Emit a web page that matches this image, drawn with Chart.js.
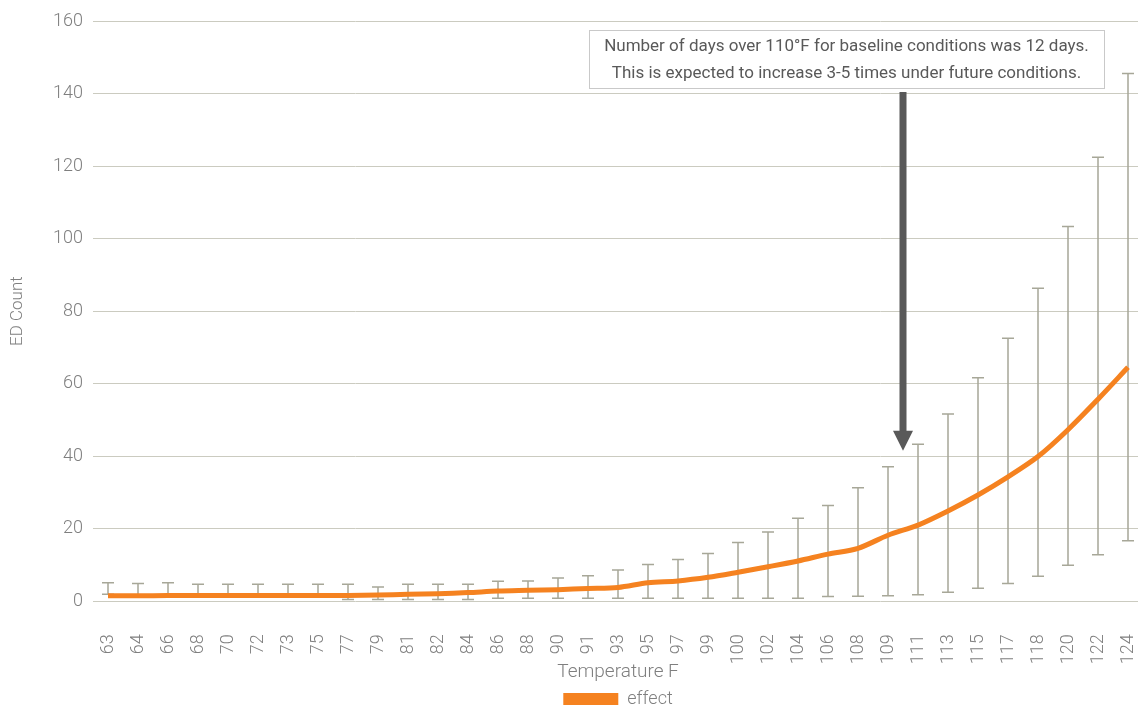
<!DOCTYPE html>
<html>
<head>
<meta charset="utf-8">
<script src="https://cdn.jsdelivr.net/npm/chart.js@4.4.1/dist/chart.umd.min.js"></script>
<style>
    html, body { margin: 0; padding: 0; background: #fff; overflow: hidden; }
    #wrap { width: 1143px; height: 710px; position: relative; }
</style>
</head>
<body>
<div id="wrap"><canvas id="grafico"></canvas></div>
<script>
// --- DADOS ---
const temperaturas = [63, 64, 66, 68, 70, 72, 73, 75, 77, 79, 81, 82, 84, 86, 88, 90, 91, 93, 95, 97,
    99, 100, 102, 104, 106, 108, 109, 111, 113, 115, 117, 118, 120, 122, 124];

const efeito = [1.5, 1.5, 1.6, 1.6, 1.6, 1.6, 1.6, 1.6, 1.6, 1.7, 1.9, 2.1, 2.4, 2.8, 3.0, 3.2, 3.5, 3.8, 5.1, 5.6,
    6.6, 8.0, 9.5, 11.1, 13.0, 14.6, 18.2, 21.0, 24.9, 29.3, 34.3, 39.9, 47.3, 55.7, 64.5];

const limiteSuperior = [5.1, 4.9, 5.1, 4.7, 4.7, 4.7, 4.7, 4.7, 4.7, 3.9, 4.7, 4.7, 4.7, 5.5, 5.6, 6.4, 7.0, 8.6, 10.1, 11.5,
    13.2, 16.2, 19.1, 22.9, 26.4, 31.3, 37.1, 43.3, 51.6, 61.6, 72.5, 86.3, 103.3, 122.4, 145.5];

const limiteInferior = [1.9, 1.2, 1.2, 1.2, 1.2, 1.2, 1.2, 1.2, 0.5, 0.5, 0.5, 0.5, 0.5, 0.8, 0.8, 0.8, 0.8, 0.8, 0.8, 0.8,
    0.8, 0.8, 0.8, 0.8, 1.3, 1.4, 1.5, 1.8, 2.5, 3.6, 4.9, 6.9, 9.9, 12.8, 16.7];

const ticksY = [0, 20, 40, 60, 80, 100, 120, 140, 160];

const textoNota = [
    'Number of days over 110°F for baseline conditions was 12 days.',
    'This is expected to increase 3-5 times under future conditions.'
];
const pontaSeta = 41.5; // valor no eixo Y onde a seta termina

// --- ESTILO ---
const fonte = "Roboto, 'Liberation Sans', sans-serif";
const corTexto = '#7f7f7f';
const corGrade = '#cbcbc0';
const corErro = '#a7a798';
const corLinha = '#f58220';
const corSeta = '#595959';

// Barras de erro desenhadas antes da linha (ficam por baixo)
const barrasErro = {
    id: 'barrasErro',
    beforeDatasetsDraw(chart) {
        const { ctx, scales: { x, y } } = chart;
        ctx.save();
        ctx.strokeStyle = corErro;
        ctx.lineWidth = 1.5;
        limiteSuperior.forEach((sup, i) => {
            const px = x.getPixelForValue(i);
            const yTop = y.getPixelForValue(sup);
            const yBot = y.getPixelForValue(limiteInferior[i]);
            ctx.beginPath();
            ctx.moveTo(px, yTop); ctx.lineTo(px, yBot);
            ctx.moveTo(px - 6, yTop); ctx.lineTo(px + 6, yTop);
            ctx.moveTo(px - 6, yBot); ctx.lineTo(px + 6, yBot);
            ctx.stroke();
        });
        ctx.restore();
    }
};

// Caixa de texto + seta apontando para 110°F
const notaSeta = {
    id: 'notaSeta',
    afterDatasetsDraw(chart) {
        const { ctx, scales: { x, y } } = chart;
        const caixa = { x: 589, y: 30, w: 515, h: 58 };
        ctx.save();
        ctx.fillStyle = '#fff';
        ctx.fillRect(caixa.x, caixa.y, caixa.w, caixa.h);
        ctx.strokeStyle = '#c9c9c9';
        ctx.lineWidth = 1;
        ctx.strokeRect(caixa.x + 0.5, caixa.y + 0.5, caixa.w, caixa.h);
        ctx.fillStyle = corSeta;
        ctx.font = '17px ' + fonte;
        ctx.textAlign = 'center';
        ctx.textBaseline = 'middle';
        ctx.fillText(textoNota[0], caixa.x + caixa.w / 2, caixa.y + 17);
        ctx.fillText(textoNota[1], caixa.x + caixa.w / 2, caixa.y + 44);

        // seta entre 109 e 111
        const ax = (x.getPixelForValue(26) + x.getPixelForValue(27)) / 2;
        const topo = caixa.y + caixa.h + 4;
        const ponta = y.getPixelForValue(pontaSeta);
        ctx.fillRect(ax - 3.5, topo, 7, ponta - topo - 18);
        ctx.beginPath();
        ctx.moveTo(ax - 10, ponta - 20);
        ctx.lineTo(ax + 10, ponta - 20);
        ctx.lineTo(ax, ponta);
        ctx.closePath();
        ctx.fill();
        ctx.restore();
    }
};

const ctx = document.getElementById('grafico').getContext('2d');
new Chart(ctx, {
    type: 'line',
    data: {
        labels: temperaturas.map(String),
        datasets: [{
            label: 'effect',
            data: efeito,
            borderColor: corLinha,
            backgroundColor: corLinha,
            borderWidth: 5,
            pointRadius: 0,
            tension: 0.3,
            fill: false
        }]
    },
    options: {
        responsive: true,
        maintainAspectRatio: false,
        animation: false,
        layout: { padding: { top: 21, left: 0, right: 0, bottom: -8 } },
        plugins: {
            tooltip: { enabled: false },
            legend: {
                position: 'bottom',
                fullSize: false,
                labels: {
                    boxWidth: 55,
                    boxHeight: 12,
                    padding: 4,
                    color: corTexto,
                    font: { family: fonte, size: 18, weight: 300 },
                    generateLabels: (chart) => chart.data.datasets.map((ds, i) => ({
                        text: ds.label,
                        fillStyle: ds.borderColor,
                        strokeStyle: ds.borderColor,
                        lineWidth: 0,
                        fontColor: corTexto,
                        datasetIndex: i
                    }))
                }
            }
        },
        scales: {
            x: {
                offset: true,
                grid: { display: false, drawTicks: false },
                border: { display: false },
                afterFit: (scale) => {
                    scale.paddingLeft = 0;
                    scale.paddingRight = 0;
                    scale.height -= 48;
                },
                ticks: {
                    minRotation: 90,
                    maxRotation: 90,
                    padding: 33,
                    color: corTexto,
                    font: { family: fonte, size: 18, weight: 300 }
                },
                title: {
                    display: true,
                    text: 'Temperature F',
                    color: corTexto,
                    font: { family: fonte, size: 19, weight: 300 },
                    padding: { top: 12, bottom: 2 }
                }
            },
            y: {
                min: 0,
                max: 160,
                afterBuildTicks: (scale) => { scale.ticks = ticksY.map(v => ({ value: v })); },
                afterFit: (scale) => { scale.width = 93; },
                grid: { color: corGrade, lineWidth: 1, drawTicks: false },
                border: { display: false },
                ticks: {
                    padding: 10,
                    color: corTexto,
                    font: { family: fonte, size: 18, weight: 300 }
                },
                title: {
                    display: true,
                    text: 'ED Count',
                    color: corTexto,
                    font: { family: fonte, size: 17, weight: 300 },
                    padding: { top: 8, bottom: 0 }
                }
            }
        }
    },
    plugins: [barrasErro, notaSeta]
});
</script>
</body>
</html>
